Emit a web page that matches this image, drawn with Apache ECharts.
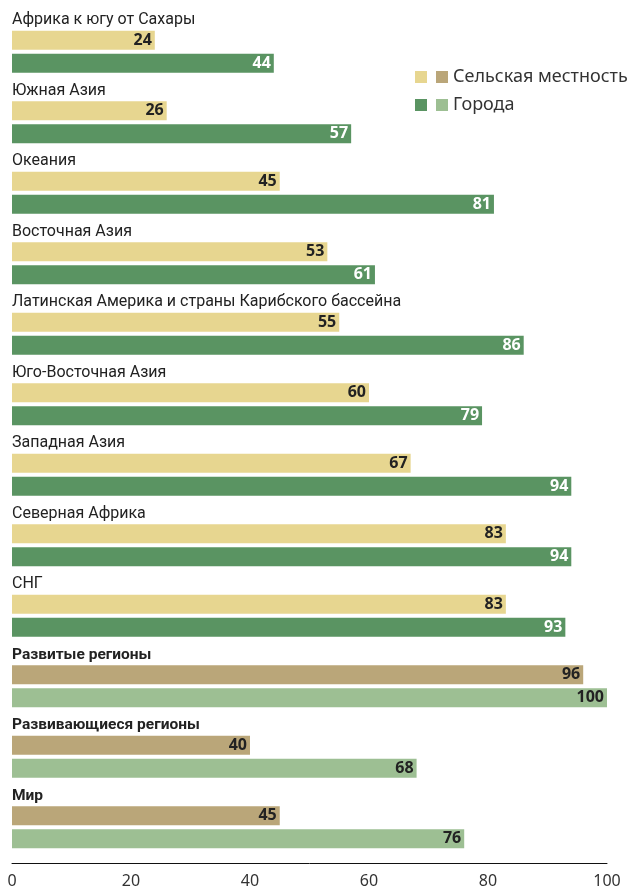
<!DOCTYPE html>
<html>
<head>
<meta charset="utf-8">
<script src="https://cdn.jsdelivr.net/npm/echarts@6/dist/echarts.min.js"></script>
<style>
  html, body { margin: 0; padding: 0; background: #fff; }
  #chart { width: 629px; height: 889px; }
</style>
</head>
<body>
<div id="chart"></div>
<script>
// regions, top to bottom
var categories = [
  'Африка к югу от Сахары',
  'Южная Азия',
  'Океания',
  'Восточная Азия',
  'Латинская Америка и страны Карибского бассейна',
  'Юго-Восточная Азия',
  'Западная Азия',
  'Северная Африка',
  'СНГ',
  'Развитые регионы',
  'Развивающиеся регионы',
  'Мир'
];
var rural = [24, 26, 45, 53, 55, 60, 67, 83, 83, 96, 40, 45];
var urban = [44, 57, 81, 61, 86, 79, 94, 94, 93, 100, 68, 76];
var aggStart = 9; // с этого индекса идут итоговые группы
var xTicks = [0, 20, 40, 60, 80, 100];

var narrow = "Roboto, 'Noto Sans', sans-serif";
var sans = "'Noto Sans', sans-serif";

function part(arr, agg) {
  return arr.map(function (v, i) {
    return (i >= aggStart) === agg ? v : '-';
  });
}

var valueLabel = function (color) {
  return {
    show: true,
    position: 'insideRight',
    distance: 3,
    color: color,
    fontFamily: sans,
    fontWeight: 'bold',
    fontSize: 16
  };
};

var nameItems = categories.map(function (c, i) {
  var agg = i >= aggStart;
  return {
    value: 0,
    label: {
      fontWeight: agg ? 'bold' : 'normal',
      fontSize: agg ? 15.5 : 16
    }
  };
});

var chart = echarts.init(document.getElementById('chart'));
var option = {
  animation: false,
  grid: { left: 12, right: 22, top: 5, bottom: 37, containLabel: false },
  legend: [{
    data: ['Сельская местность', 'Города'],
    orient: 'vertical',
    left: 410, top: 62,
    itemWidth: 12, itemHeight: 12, itemGap: 8,
    icon: 'rect',
    selectedMode: false,
    formatter: function () { return ' '; },
    textStyle: { fontSize: 18, lineHeight: 20, fontFamily: sans }
  }, {
    data: ['Сельская местность, итоги', 'Города, итоги'],
    orient: 'vertical',
    left: 431, top: 62,
    itemWidth: 12, itemHeight: 12, itemGap: 8,
    icon: 'rect',
    selectedMode: false,
    formatter: function (n) { return n.replace(', итоги', ''); },
    textStyle: { fontSize: 18, lineHeight: 20, fontFamily: sans, color: '#333' }
  }],
  xAxis: {
    type: 'value',
    min: 0, max: 100, interval: 20,
    offset: 12,
    splitLine: { show: false },
    axisTick: { show: false },
    axisLine: { show: true, lineStyle: { color: '#111', width: 1 } },
    axisLabel: {
      color: '#333', fontSize: 16, fontFamily: sans, margin: 10,
      customValues: xTicks
    }
  },
  yAxis: {
    type: 'category',
    data: categories,
    inverse: true,
    axisLine: { show: false },
    axisTick: { show: false },
    axisLabel: { show: false }
  },
  series: [{
    name: 'names',
    type: 'bar',
    barWidth: 19,
    barGap: '21%',
    itemStyle: { color: 'rgba(0,0,0,0)' },
    label: {
      show: true,
      position: [0, '50%'],
      align: 'left',
      verticalAlign: 'middle',
      offset: [0, 3],
      color: '#222',
      fontFamily: narrow,
      formatter: function (p) { return categories[p.dataIndex]; }
    },
    data: nameItems,
    silent: true
  }, {
    name: 'Сельская местность',
    type: 'bar', stack: 'r', barWidth: 19, barGap: '21%',
    itemStyle: { color: '#E7D690' },
    label: valueLabel('#222'),
    data: part(rural, false)
  }, {
    name: 'Сельская местность, итоги',
    type: 'bar', stack: 'r', barWidth: 19, barGap: '21%',
    itemStyle: { color: '#BAA679' },
    label: valueLabel('#222'),
    data: part(rural, true)
  }, {
    name: 'Города',
    type: 'bar', stack: 'u', barWidth: 19, barGap: '21%',
    itemStyle: { color: '#5A9462' },
    label: valueLabel('#fff'),
    data: part(urban, false)
  }, {
    name: 'Города, итоги',
    type: 'bar', stack: 'u', barWidth: 19, barGap: '21%',
    itemStyle: { color: '#9DBF93' },
    label: valueLabel('#222'),
    data: part(urban, true)
  }]
};
chart.setOption(option);
</script>
</body>
</html>
